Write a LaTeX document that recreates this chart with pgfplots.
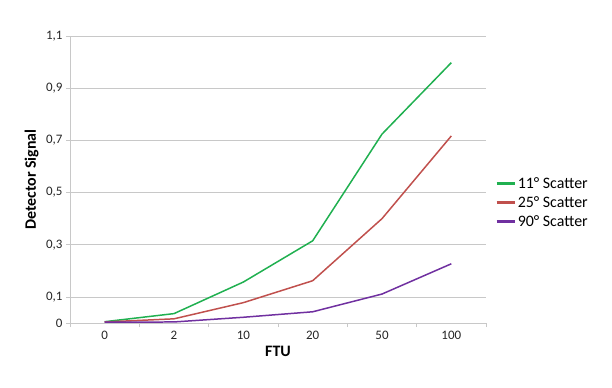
\documentclass[border=0pt]{standalone}
\usepackage{pgfplots}
\pgfplotsset{compat=1.18}
\usepackage{fontspec}
\setmainfont{Carlito}
\definecolor{cgreen}{RGB}{32,176,80}
\definecolor{cred}{RGB}{192,80,77}
\definecolor{cpurple}{RGB}{112,48,160}
\definecolor{cgrid}{RGB}{200,200,200}
\begin{document}
\begin{tikzpicture}[x=1bp,y=1bp]
\path[use as bounding box] (0,0) rectangle (612,387);
\begin{axis}[
  at={(70bp,64bp)}, anchor=south west,
  scale only axis,
  width=416bp, height=287bp,
  xmin=-0.5, xmax=5.5,
  ymin=0, ymax=1.1,
  axis x line=bottom, axis y line=left,
  axis line style={-, cgrid, line width=0.8pt},
  xtick={0,1,2,3,4,5},
  xticklabels={0,2,10,20,50,100},
  minor xtick={-0.5,0.5,1.5,2.5,3.5,4.5,5.5},
  major x tick style={draw=none},
  minor tick length=4bp,
  minor tick style={cgrid, line width=0.8pt},
  ytick={0,0.1,0.3,0.5,0.7,0.9,1.1},
  major tick length=4bp,
  major y tick style={cgrid, line width=0.8pt},
  tick align=outside,
  ymajorgrids,
  grid style={cgrid, line width=0.8pt},
  yticklabel style={/pgf/number format/.cd, use comma, fixed, precision=1, assume math mode=true},
  ticklabel style={font=\fontsize{13}{15}\selectfont, text=black!85},
  xticklabel style={yshift=-1bp},
  xlabel={\textbf{FTU}},
  ylabel={\textbf{Detector Signal}},
  label style={font=\fontsize{16}{18}\selectfont},
  xlabel style={at={(0.5,0)}, anchor=north, yshift=-20bp},
  ylabel style={at={(0,0.5)}, anchor=south, yshift=28bp},
  legend style={at={(1.022,0.42)}, anchor=west, draw=none, fill=none,
    font=\fontsize{16}{18}\selectfont, row sep=2.5bp, inner sep=0bp},
  legend cell align=left,
  legend image code/.code={\draw[#1, line width=2.4bp] (0bp,0bp) -- (18bp,0bp);},
]
\addplot[cgreen, line width=1.5pt] coordinates {(0,0.005) (1,0.036) (2,0.157) (3,0.315) (4,0.724) (5,0.998)};
\addlegendentry{11° Scatter}
\addplot[cred, line width=1.5pt] coordinates {(0,0.004) (1,0.016) (2,0.078) (3,0.162) (4,0.40) (5,0.717)};
\addlegendentry{25° Scatter}
\addplot[cpurple, line width=1.5pt] coordinates {(0,0.003) (1,0.004) (2,0.022) (3,0.043) (4,0.111) (5,0.227)};
\addlegendentry{90° Scatter}
\end{axis}
\end{tikzpicture}
\end{document}
